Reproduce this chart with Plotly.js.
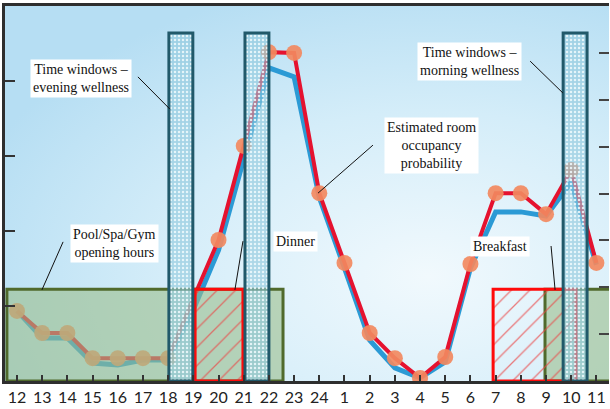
<!DOCTYPE html>
<html><head><meta charset="utf-8">
<script src="https://cdn.plot.ly/plotly-3.0.1.min.js"></script>
<style>html,body{margin:0;padding:0;background:#fff}#chart{width:610px;height:409px}</style>
</head><body><div id="chart"></div>
<script>
// Hours of the day (x categories, in order)
const hours = [12,13,14,15,16,17,18,19,20,21,22,23,24,1,2,3,4,5,6,7,8,9,10,11];
// Estimated room occupancy probability (red, with markers)
const occupancyEstimated = [0.187,0.128,0.128,0.061,0.061,0.061,0.061,0.22,0.376,0.627,0.877,0.875,0.501,0.315,0.128,0.061,0.008,0.064,0.312,0.501,0.501,0.445,0.563,0.315];
// Second (blue) occupancy curve
const occupancyBlue = [0.187,0.115,0.115,0.048,0.043,0.056,0.056,0.19,0.349,0.589,0.835,0.811,0.49,0.301,0.109,0.035,0.008,0.051,0.301,0.451,0.451,0.44,0.53,0.31];
// Marker visibility per point (hour 19 hidden behind wellness window)
const markerShown = hours.map(h => h === 19 ? 0 : 0.92);

// Regions (x in hour-slot index units)
const wellnessWindows = [[6.03, 6.98], [9.05, 10.0], [21.68, 22.63]];
const wellnessTop = 0.928;
const poolHours = [[-0.4, 10.56], [20.96, 23.7]];
const poolTop = 0.245;
const mealWindows = [[7.07, 8.97], [18.9, 22.19]];
const mealTop = 0.245;

// Callout labels: [text, x, y, xanchor]
const labels = [
  ["Time windows \u2013<br>evening wellness", 2.54, 0.808, "center"],
  ["Time windows \u2013<br>morning wellness", 17.98, 0.851, "center"],
  ["Estimated room<br>occupancy<br>probability", 16.47, 0.629, "center"],
  ["Pool/Spa/Gym<br>opening hours", 3.89, 0.368, "center"],
  ["Dinner", 10.16, 0.371, "left"],
  ["Breakfast", 19.17, 0.36, "center"]
];
// Leader lines: [x0, y0, x1, y1]
const leaders = [
  [4.80, 0.811, 6.07, 0.725],
  [20.37, 0.853, 21.67, 0.768],
  [14.13, 0.629, 11.95, 0.501],
  [1.83, 0.371, 0.99, 0.243],
  [8.97, 0.373, 8.65, 0.243],
  [21.2, 0.36, 21.36, 0.243]
];

const idx = hours.map((h, i) => i);

function rectTrace(x0, x1, top, style) {
  return Object.assign({
    type: 'scatter', mode: 'lines', fill: 'toself',
    x: [x0, x1, x1, x0, x0], y: [0, 0, top, top, 0],
    hoverinfo: 'skip', showlegend: false, cliponaxis: true
  }, style);
}

const traces = [];
traces.push({type:'scatter', mode:'lines', x: idx, y: occupancyBlue,
  line:{color:'#2b9ad5', width:5}, hoverinfo:'skip', showlegend:false});
traces.push({type:'scatter', mode:'lines+markers', x: idx, y: occupancyEstimated,
  line:{color:'#e5122f', width:4},
  marker:{color:'#f2895f', size:16, opacity: markerShown},
  hoverinfo:'skip', showlegend:false});

poolHours.forEach(p => traces.push(rectTrace(p[0], p[1], poolTop, {
  fillcolor:'rgba(155,190,140,0.6)', line:{color:'#506a2c', width:3}
})));
mealWindows.forEach(p => traces.push(rectTrace(p[0], p[1], mealTop, {
  fillcolor:'rgba(255,255,255,0)',
  fillpattern:{shape:'/', fgcolor:'rgba(235,70,70,0.7)', bgcolor:'rgba(255,255,255,0)', size:13, solidity:0.1},
  line:{color:'#ff0a0a', width:3}
})));
wellnessWindows.forEach(p => traces.push(rectTrace(p[0], p[1], wellnessTop, {
  fillcolor:'rgba(145,200,220,0.6)',
  fillpattern:{shape:'.', fgcolor:'rgba(240,250,253,0.85)', bgcolor:'rgba(140,198,218,0.6)', size:4, solidity:0.3},
  line:{color:'#21596a', width:3}
})));
traces.push({type:'scatter', x:[null], y:[null], yaxis:'y2', hoverinfo:'skip', showlegend:false});

const bgSvg = "<svg xmlns='http://www.w3.org/2000/svg' width='604' height='375'><defs><radialGradient id='g' cx='0.7' cy='0.72' r='0.8'><stop offset='0' stop-color='#f1f9fd'/><stop offset='0.55' stop-color='#d4edf9'/><stop offset='1' stop-color='#b6def3'/></radialGradient></defs><rect width='604' height='375' fill='url(#g)'/></svg>";

const layout = {
  width:610, height:409,
  margin:{l:5, r:1, t:6, b:28},
  paper_bgcolor:'#ffffff', plot_bgcolor:'rgba(0,0,0,0)',
  showlegend:false,
  images:[{source:'data:image/svg+xml;charset=utf-8,' + encodeURIComponent(bgSvg),
    xref:'paper', yref:'paper', x:0, y:1, sizex:1, sizey:1, sizing:'stretch', layer:'below'}],
  xaxis:{range:[-0.476, 23.5], tickvals: idx, ticktext: hours.map(String),
    ticks:'inside', ticklen:6, tickwidth:2, tickcolor:'#333',
    showline:true, linecolor:'#2e2e2e', linewidth:3, mirror:true,
    showgrid:false, zeroline:false,
    tickfont:{family:'Lato, sans-serif', size:16, color:'#222'}},
  yaxis:{range:[0,1], tickvals:[0.2,0.4,0.6,0.8], showticklabels:false,
    ticks:'inside', ticklen:10, tickwidth:2, tickcolor:'#333',
    showline:true, linecolor:'#2e2e2e', linewidth:3,
    showgrid:false, zeroline:false},
  yaxis2:{overlaying:'y', side:'right', range:[0,8], dtick:1, showticklabels:false,
    ticks:'inside', ticklen:10, tickwidth:2, tickcolor:'#444',
    showline:false, showgrid:false, zeroline:false},
  annotations: labels.map(l => ({text:l[0], x:l[1], y:l[2], xref:'x', yref:'y',
    xanchor:l[3], yanchor:'middle', showarrow:false, bgcolor:'#ffffff', borderpad:2,
    font:{family:'Liberation Serif, Times New Roman, serif', size:14, color:'#111'}})),
  shapes: leaders.map(s => ({type:'line', xref:'x', yref:'y', x0:s[0], y0:s[1], x1:s[2], y1:s[3],
    line:{color:'#111', width:1}}))
};

Plotly.newPlot('chart', traces, layout, {displayModeBar:false, staticPlot:true});
</script></body></html>
